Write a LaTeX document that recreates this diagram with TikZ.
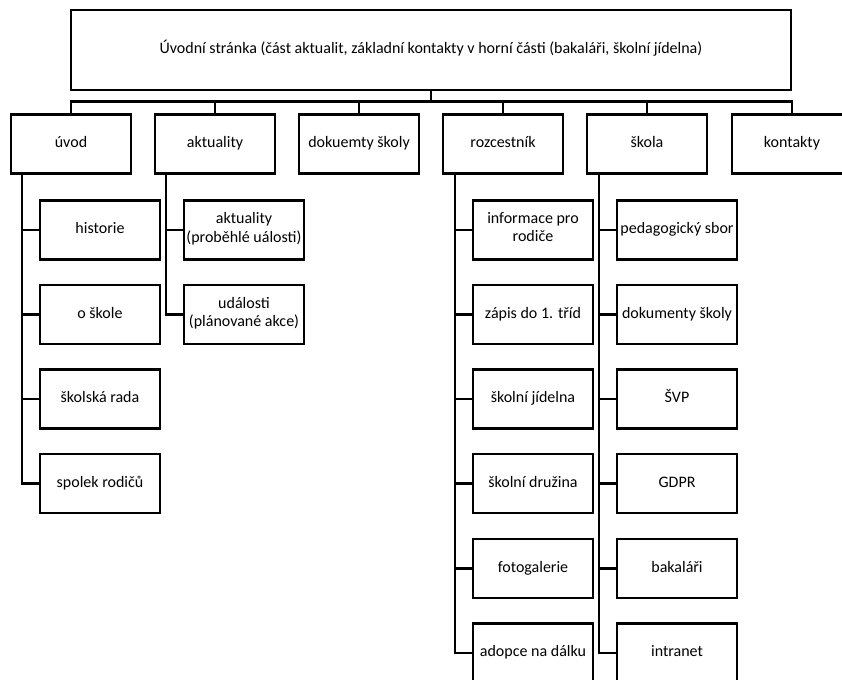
\documentclass[tikz,border=0pt]{standalone}
\usepackage{fontspec}
\setmainfont{Carlito}
\begin{document}
\begin{tikzpicture}[x=1pt, y=-1pt,
  box/.style={draw, line width=2.3pt, rectangle, minimum width=120pt, minimum height=59pt, inner sep=0.5pt, align=center, font=\fontsize{16}{18.5}\selectfont, execute at begin node=\strut, execute at end node=\strut},
  link/.style={line width=2.7pt}]
\useasboundingbox (0,0) rectangle (842,679);
\clip (0,0) rectangle (842,679);
\node[box, minimum width=720pt, minimum height=80pt] (top) at (431,50){Úvodní stránka (část aktualit, základní kontakty v horní části (bakaláři, školní jídelna)};
\node[box] (s1) at (71,144){úvod};
\node[box] (s2) at (215,144){aktuality};
\node[box] (s3) at (359,144){dokuemty školy};
\node[box] (s4) at (503,144){rozcestník};
\node[box] (s5) at (647,144){škola};
\node[box] (s6) at (792,144){kontakty};
\draw[link](s1.north) -- ++(0,-12) -| (top.south);
\draw[link](s2.north) -- ++(0,-12) -| (top.south);
\draw[link](s3.north) -- ++(0,-12) -| (top.south);
\draw[link](s4.north) -- ++(0,-12) -| (top.south);
\draw[link](s5.north) -- ++(0,-12) -| (top.south);
\draw[link](s6.north) -- ++(0,-12) -| (top.south);
% uvod
\node[box] (s1a) at (100,230){historie};
\node[box] (s1b) at (100,314.5){o škole};
\node[box] (s1c) at (100,399){školská rada};
\node[box] (s1d) at (100,483.5){spolek rodičů};
\draw[link]([xshift=12pt]s1.south west) |- (s1a.west);
\draw[link]([xshift=12pt]s1.south west) |- (s1b.west);
\draw[link]([xshift=12pt]s1.south west) |- (s1c.west);
\draw[link]([xshift=12pt]s1.south west) |- (s1d.west);
% aktuality
\node[box] (s2a) at (244,230){aktuality\\(proběhlé uálosti)};
\node[box] (s2b) at (244,314.5){události\\(plánované akce)};
\draw[link]([xshift=12pt]s2.south west) |- (s2a.west);
\draw[link]([xshift=12pt]s2.south west) |- (s2b.west);
% rozcestnik
\node[box] (s4a) at (533,230){informace pro\\rodiče};
\node[box] (s4b) at (533,314.5){zápis do 1. tříd};
\node[box] (s4c) at (533,399){školní jídelna};
\node[box] (s4d) at (533,483.5){školní družina};
\node[box] (s4e) at (533,568.5){fotogalerie};
\node[box] (s4f) at (533,653){adopce na dálku};
\draw[link]([xshift=13pt]s4.south west) |- (s4a.west);
\draw[link]([xshift=13pt]s4.south west) |- (s4b.west);
\draw[link]([xshift=13pt]s4.south west) |- (s4c.west);
\draw[link]([xshift=13pt]s4.south west) |- (s4d.west);
\draw[link]([xshift=13pt]s4.south west) |- (s4e.west);
\draw[link]([xshift=13pt]s4.south west) |- (s4f.west);
% skola
\node[box] (s5a) at (677,230){pedagogický sbor};
\node[box] (s5b) at (677,314.5){dokumenty školy};
\node[box] (s5c) at (677,399){ŠVP};
\node[box] (s5d) at (677,483.5){GDPR};
\node[box] (s5e) at (677,568.5){bakaláři};
\node[box] (s5f) at (677,653){intranet};
\draw[link]([xshift=13pt]s5.south west) |- (s5a.west);
\draw[link]([xshift=13pt]s5.south west) |- (s5b.west);
\draw[link]([xshift=13pt]s5.south west) |- (s5c.west);
\draw[link]([xshift=13pt]s5.south west) |- (s5d.west);
\draw[link]([xshift=13pt]s5.south west) |- (s5e.west);
\draw[link]([xshift=13pt]s5.south west) |- (s5f.west);
\end{tikzpicture}
\end{document}
